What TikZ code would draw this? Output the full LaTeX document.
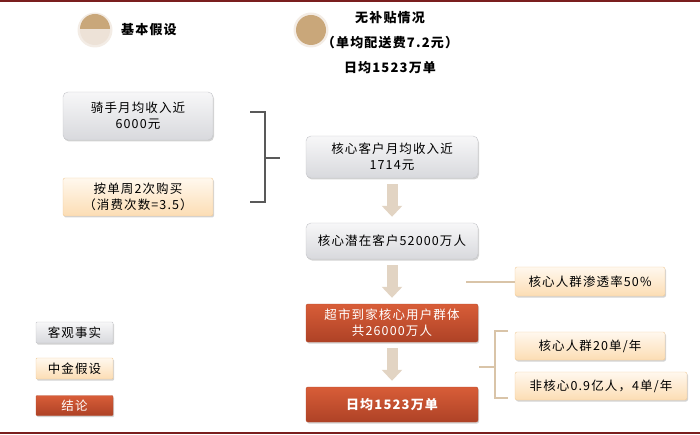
\documentclass[tikz,border=0pt]{standalone}
\usepackage{fontspec}
\setmainfont{Liberation Sans}
\newfontfamily\cjk[LetterSpace=9]{Noto Sans CJK SC}
\usetikzlibrary{arrows.meta,shadows}
\definecolor{tanc}{HTML}{C9A77A}
\definecolor{lightc}{HTML}{EDE2D7}
\definecolor{ringc}{HTML}{F3ECE5}
\definecolor{arrowc}{HTML}{E2D4C3}
\definecolor{brk}{HTML}{D9C4A8}
\definecolor{darkred}{HTML}{7A1E1E}
\definecolor{redtop}{HTML}{D85D38}
\definecolor{redbot}{HTML}{AE4226}
\definecolor{redline}{HTML}{B54A2C}
\definecolor{graytop}{HTML}{F7F7F8}
\definecolor{graybot}{HTML}{D8D9DD}
\definecolor{grayline}{HTML}{C4C5C9}
\definecolor{creamtop}{HTML}{FFF8EE}
\definecolor{creambot}{HTML}{FCDDB4}
\definecolor{creamline}{HTML}{F0CB98}
\tikzset{
  x=1pt,y=-1pt,
  txt/.style={font=\cjk\fontsize{12.5}{16}\selectfont, align=center, inner sep=0pt},
  basebox/.style={txt, minimum width=#1, rounded corners=2pt,
     drop shadow={shadow xshift=1pt, shadow yshift=-1.5pt, opacity=0.35, fill=gray}},
  graybox/.style={basebox=#1, draw=grayline, top color=graytop, bottom color=graybot, rounded corners=5pt},
  creambox/.style={basebox=#1, draw=creamline, top color=creamtop, bottom color=creambot},
  redbox/.style={basebox=#1, draw=redline, top color=redtop, bottom color=redbot, text=white},
  bigarrow/.style={line width=11pt, color=arrowc, -{Triangle[length=11pt,width=20pt]}, shorten <=6pt, shorten >=6pt},
  brk1/.style={draw=black!65, line width=1.5pt},
  brk2/.style={draw=brk, line width=2.5pt},
}
\begin{document}
\begin{tikzpicture}
\useasboundingbox (0,0) rectangle (700,435);
% borders
\draw[darkred, line width=1.5pt] (0,1) -- (700,1);
\draw[darkred, line width=1.5pt] (0,433) -- (700,433);

% legend circles
\fill[ringc] (95,30) circle (17.5);
\fill[lightc] (95,30) circle (15);
\fill[tanc] (80,29) arc[start angle=180, end angle=360, radius=15] -- cycle;
\node[txt, anchor=west, font=\cjk\fontsize{13}{15}\selectfont\bfseries] (h1) at (121,30) {基本假设};
\fill[ringc] (311,30) circle (17.5);
\fill[tanc] (311,30) circle (15);
\node[txt, font=\cjk\fontsize{13}{25}\selectfont\bfseries] (h2) at (390,43) {无补贴情况\\（单均配送费7.2元）\\日均1523万单};

% left column
\node[graybox=150pt, minimum height=48pt] (a1) at (138,116) {骑手月均收入近\\6000元};
\node[creambox=150pt, minimum height=38pt] (a2) at (138,197) {按单周2次购买\\（消费次数=3.5）};

% center column
\node[graybox=172pt, minimum height=42pt] (b1) at (392,157) {核心客户月均收入近\\1714元};
\node[graybox=172pt, minimum height=36pt] (b2) at (392,241) {核心潜在客户52000万人};
\node[redbox=172pt, minimum height=38pt] (b3) at (392,323) {超市到家核心用户群体\\共26000万人};
\node[redbox=172pt, minimum height=35pt, font=\cjk\fontsize{13}{15}\selectfont\bfseries] (b4) at (392,404.5) {日均1523万单};
\draw[bigarrow] (b1) -- (b2);
\draw[bigarrow] (b2) -- (b3);
\draw[bigarrow] (b3) -- (b4);

% bracket 1
\draw[brk1] (250,112) -- (265,112) -- (265,202) -- (250,202);
\coordinate (m1) at (265,158);
\coordinate (m1e) at (280,158);
\draw[brk1] (m1) -- (m1e);

% right column
\node[creambox=150pt, minimum height=29pt] (r1) at (590,281.5) {核心人群渗透率50\%};
\node[creambox=150pt, minimum height=28pt] (r2) at (590,346) {核心人群20单/年};
\node[creambox=172pt, minimum height=28pt] (r3) at (601,386) {非核心0.9亿人，4单/年};
\coordinate (l1) at (466,282);
\draw[brk2] (l1) -- (r1.west |- l1);
\draw[brk2] (508,331) -- (495,331) -- (495,398) -- (508,398);
\coordinate (m2) at (479,367);
\coordinate (m2e) at (495,367);
\draw[brk2] (m2) -- (m2e);

% legend boxes
\node[graybox=77pt, minimum height=21pt, rounded corners=1pt] (k1) at (74.5,332.5) {客观事实};
\node[creambox=77pt, minimum height=21pt, rounded corners=1pt] (k2) at (74.5,368.5) {中金假设};
\node[redbox=77pt, minimum height=20pt, rounded corners=1pt] (k3) at (74.5,405.5) {结论};
\end{tikzpicture}
\end{document}
